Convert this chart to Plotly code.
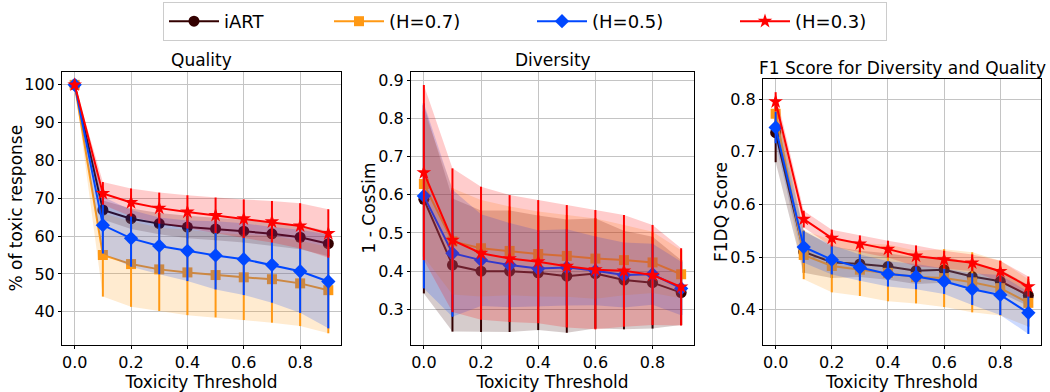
import plotly.graph_objects as go

# ---------------- data ----------------
thresholds = [0.0, 0.1, 0.2, 0.3, 0.4, 0.5, 0.6, 0.7, 0.8, 0.9]
series_names = ["iART", "(H=0.7)", "(H=0.5)", "(H=0.3)"]

quality_iart = [100, 66.9, 64.6, 63.3, 62.4, 61.9, 61.3, 60.6, 59.7, 58.0]
quality_iart_std = [0, 2.5, 2.7, 2.8, 3.0, 3.0, 3.0, 3.1, 3.2, 3.3]
quality_h07 = [100, 55.0, 52.6, 51.2, 50.4, 49.7, 49.1, 48.6, 47.5, 45.7]
quality_h07_std = [0, 11.0, 11.3, 11.0, 11.3, 11.2, 11.3, 11.5, 11.3, 11.4]
quality_h05 = [100, 62.9, 59.4, 57.4, 56.1, 54.9, 53.9, 52.4, 50.7, 48.0]
quality_h05_std = [0, 7.5, 7.5, 7.5, 8.0, 9.0, 9.5, 10.0, 11.0, 12.4]
quality_h03 = [100, 71.3, 68.9, 67.4, 66.4, 65.5, 64.6, 63.8, 62.7, 60.7]
quality_h03_std = [0, 3.0, 3.7, 4.1, 4.4, 4.7, 5.1, 5.5, 6.0, 6.4]

diversity_iart = [0.588, 0.416, 0.400, 0.400, 0.396, 0.387, 0.394, 0.377, 0.370, 0.344]
diversity_iart_std = [0.246, 0.174, 0.159, 0.159, 0.150, 0.148, 0.144, 0.129, 0.120, 0.085]
diversity_h07 = [0.628, 0.478, 0.460, 0.453, 0.445, 0.440, 0.433, 0.429, 0.423, 0.392]
diversity_h07_std = [0.19, 0.139, 0.126, 0.116, 0.111, 0.107, 0.105, 0.092, 0.080, 0.063]
diversity_h05 = [0.597, 0.447, 0.429, 0.416, 0.407, 0.410, 0.401, 0.390, 0.392, 0.355]
diversity_h05_std = [0.242, 0.166, 0.12, 0.11, 0.10, 0.10, 0.09, 0.085, 0.08, 0.07]
diversity_h03 = [0.658, 0.481, 0.447, 0.433, 0.425, 0.413, 0.404, 0.401, 0.390, 0.359]
diversity_h03_std = [0.229, 0.188, 0.174, 0.166, 0.161, 0.160, 0.156, 0.146, 0.131, 0.101]

f1_iart = [0.736, 0.510, 0.490, 0.487, 0.482, 0.474, 0.476, 0.463, 0.454, 0.427]
f1_iart_std = [0.056, 0.040, 0.030, 0.025, 0.025, 0.025, 0.025, 0.025, 0.022, 0.020]
f1_h07 = [0.772, 0.504, 0.483, 0.476, 0.470, 0.462, 0.460, 0.452, 0.441, 0.413]
f1_h07_std = [0.030, 0.046, 0.050, 0.050, 0.054, 0.050, 0.055, 0.057, 0.052, 0.045]
f1_h05 = [0.746, 0.519, 0.495, 0.480, 0.468, 0.463, 0.454, 0.439, 0.428, 0.394]
f1_h05_std = [0.030, 0.030, 0.028, 0.025, 0.024, 0.024, 0.024, 0.030, 0.038, 0.040]
f1_h03 = [0.795, 0.572, 0.536, 0.525, 0.515, 0.502, 0.495, 0.489, 0.473, 0.444]
f1_h03_std = [0.018, 0.016, 0.016, 0.016, 0.016, 0.020, 0.017, 0.016, 0.020, 0.019]

x_tick_labels = ["0.0", "0.2", "0.4", "0.6", "0.8"]
panel_titles = ["Quality", "Diversity", "F1 Score for Diversity and Quality"]
y_titles = ["% of toxic response", "1 - CosSim", "F1DQ Score"]
x_title = "Toxicity Threshold"

# ---------------- style ----------------
colors = ["#330000", "#FF9914", "#0047FF", "#FF0000"]
bands = ["rgba(51,0,0,0.2)", "rgba(255,153,20,0.2)", "rgba(0,71,255,0.2)", "rgba(255,0,0,0.2)"]
symbols = ["circle", "square", "diamond", "star"]
msizes = [11, 10, 11, 11]
legend_widths = [100, 138, 138, 86]
FONT = "DejaVu Sans"
W, H = 1050, 392

panels = [
    (
        [quality_iart, quality_h07, quality_h05, quality_h03],
        [quality_iart_std, quality_h07_std, quality_h05_std, quality_h03_std],
    ),
    (
        [diversity_iart, diversity_h07, diversity_h05, diversity_h03],
        [diversity_iart_std, diversity_h07_std, diversity_h05_std, diversity_h03_std],
    ),
    (
        [f1_iart, f1_h07, f1_h05, f1_h03],
        [f1_iart_std, f1_h07_std, f1_h05_std, f1_h03_std],
    ),
]

# pixel boxes of the three axes (left, right, top, bottom)
boxes = [(62, 341, 72, 345), (411, 694, 72, 345), (763, 1041, 79, 345)]
y_ranges = [[31.2, 103.4], [0.207, 0.921], [0.333, 0.838]]
y_dticks = [10, 0.1, 0.1]
y_formats = ["d", ".1f", ".1f"]
y_title_px = [15, 368, 721]
panel_title_py = [60, 60, 68]

fig = go.Figure()

for p, (means, stds) in enumerate(panels):
    xa = "x" if p == 0 else f"x{p+1}"
    ya = "y" if p == 0 else f"y{p+1}"
    for s in range(4):
        m = means[s]
        sd = stds[s]
        upper = [a + b for a, b in zip(m, sd)]
        lower = [a - b for a, b in zip(m, sd)]
        fig.add_trace(go.Scatter(
            x=thresholds + thresholds[::-1],
            y=upper + lower[::-1],
            fill="toself", fillcolor=bands[s],
            line=dict(width=0, color=bands[s]),
            mode="lines", hoverinfo="skip", showlegend=False,
            xaxis=xa, yaxis=ya,
        ))
        fig.add_trace(go.Scatter(
            x=thresholds, y=m,
            mode="lines+markers",
            name=series_names[s],
            line=dict(color=colors[s], width=2),
            marker=dict(symbol=symbols[s], size=msizes[s], color=colors[s],
                        line=dict(width=0)),
            error_y=dict(type="data", array=sd, visible=True,
                         color=colors[s], thickness=2, width=0),
            showlegend=(p == 0),
            legendwidth=legend_widths[s],
            xaxis=xa, yaxis=ya,
        ))

axis_common = dict(
    showline=True, mirror=True, linecolor="black", linewidth=1,
    showgrid=True, gridcolor="#c4c4c4", gridwidth=1,
    ticks="outside", ticklen=3, tickcolor="black", tickwidth=1,
    tickfont=dict(family=FONT, size=16, color="black"),
    zeroline=False,
)

layout = dict(
    width=W, height=H,
    margin=dict(l=0, r=0, t=0, b=0),
    plot_bgcolor="white", paper_bgcolor="white",
    font=dict(family=FONT, size=16, color="black"),
    showlegend=True,
    legend=dict(
        orientation="h", x=163 / W, xanchor="left", y=1 - 2 / H, yanchor="top",
        bordercolor="#cccccc", borderwidth=1, bgcolor="white",
        font=dict(family=FONT, size=18, color="black"),
        itemwidth=50,
    ),
    annotations=[],
)

for p in range(3):
    l, r, t, b = boxes[p]
    xk = "xaxis" if p == 0 else f"xaxis{p+1}"
    yk = "yaxis" if p == 0 else f"yaxis{p+1}"
    ya_anchor = "y" if p == 0 else f"y{p+1}"
    xa_anchor = "x" if p == 0 else f"x{p+1}"
    layout[xk] = dict(
        axis_common,
        domain=[l / W, r / W], anchor=ya_anchor,
        range=[-0.045, 0.945],
        tickvals=[float(v) for v in x_tick_labels], ticktext=x_tick_labels,
        title=dict(text=x_title, font=dict(family=FONT, size=17), standoff=4),
    )
    layout[yk] = dict(
        axis_common,
        domain=[1 - b / H, 1 - t / H], anchor=xa_anchor,
        range=y_ranges[p], dtick=y_dticks[p], tickformat=y_formats[p],
    )
    # panel title
    layout["annotations"].append(dict(
        text=panel_titles[p], x=(l + r) / 2 / W, y=1 - panel_title_py[p] / H,
        xref="paper", yref="paper", xanchor="center", yanchor="middle",
        showarrow=False, font=dict(family=FONT, size=17, color="black"),
    ))
    # y-axis title
    layout["annotations"].append(dict(
        text=y_titles[p], x=y_title_px[p] / W, y=1 - (t + b) / 2 / H,
        xref="paper", yref="paper", xanchor="center", yanchor="middle",
        textangle=-90, showarrow=False,
        font=dict(family=FONT, size=17, color="black"),
    ))

fig.update_layout(**layout)
fig.write_html("out.html", config={"displayModeBar": False},
               post_script="document.body.style.margin='0';")
